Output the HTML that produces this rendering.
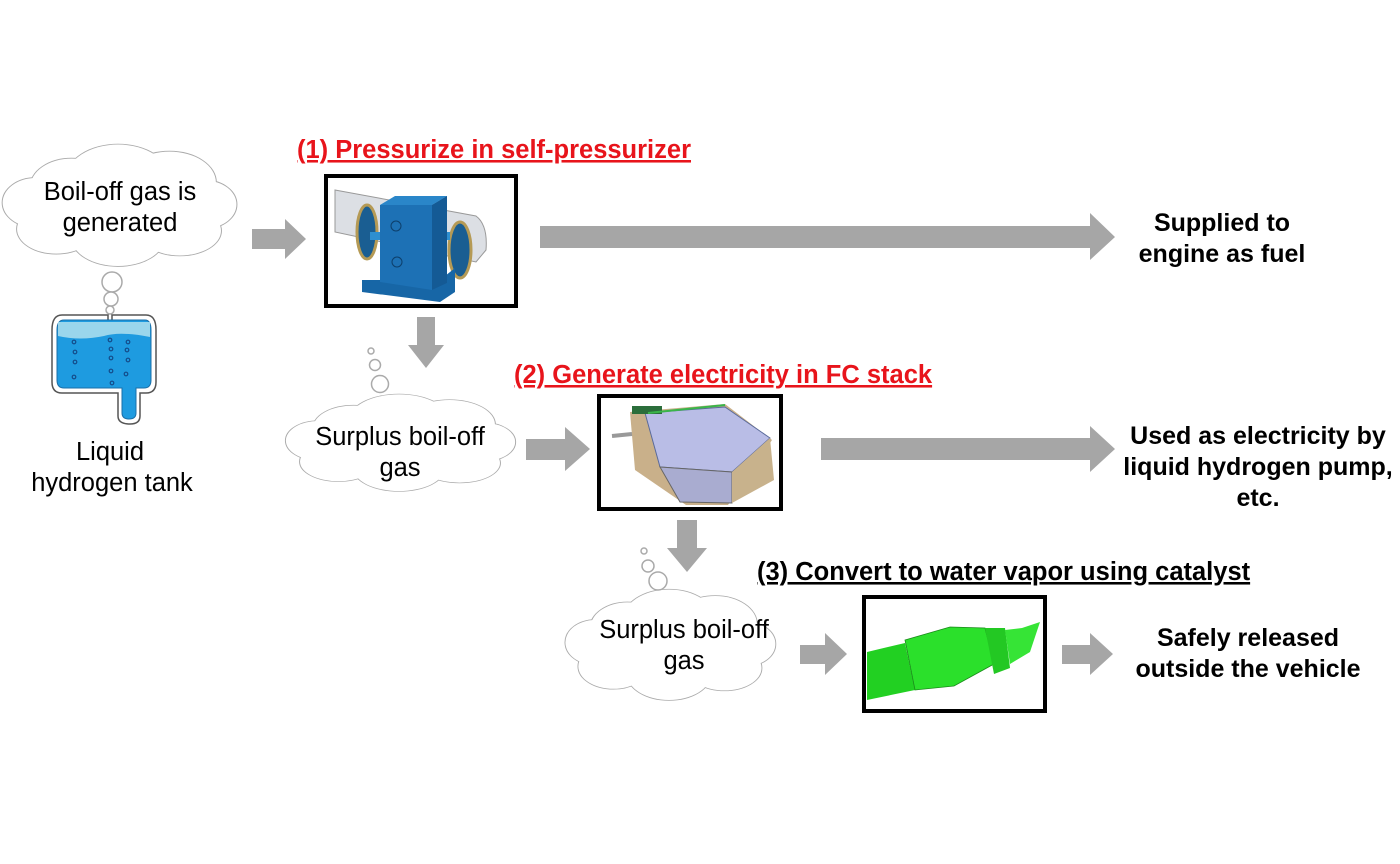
<!DOCTYPE html>
<html><head><meta charset="utf-8"><style>
html,body{margin:0;padding:0;background:#fff;}
svg{display:block;}
text{font-family:"Liberation Sans",Arial,sans-serif;}
.r{font-size:25.5px;fill:#000;text-anchor:middle;}
.b{font-size:25px;font-weight:bold;fill:#000;text-anchor:middle;}
.t{font-size:25.5px;font-weight:bold;text-decoration:underline;}
</style></head><body>
<svg width="1400" height="864" viewBox="0 0 1400 864" xmlns="http://www.w3.org/2000/svg">
<defs>
<g id="cloudS">
<ellipse cx="0" cy="0" rx="50" ry="38"/>
<ellipse cx="-45" cy="10" rx="40" ry="32"/>
<ellipse cx="50" cy="5" rx="45" ry="35"/>
<ellipse cx="-80" cy="28" rx="32" ry="28"/>
<ellipse cx="85" cy="30" rx="30" ry="27"/>
<ellipse cx="-60" cy="58" rx="38" ry="28"/>
<ellipse cx="0" cy="68" rx="45" ry="32"/>
<ellipse cx="60" cy="60" rx="40" ry="28"/>
<ellipse cx="0" cy="35" rx="90" ry="40"/>
</g>
</defs>
<g fill="#a6a6a6">
<polygon points="252,229 285,229 285,219 306,239 285,259 285,249 252,249"/>
<polygon points="540,226 1090,226 1090,213 1115,237 1090,260 1090,248 540,248"/>
<polygon points="417,317 435,317 435,345 444,345 426,368 408,345 417,345"/>
<polygon points="526,439 565,439 565,427 590,449 565,471 565,460 526,460"/>
<polygon points="821,438 1090,438 1090,426 1115,449 1090,472 1090,460 821,460"/>
<polygon points="677,520 697,520 697,548 707,548 687,572 667,548 677,548"/>
<polygon points="800,645 825,645 825,633 847,654 825,675 825,664 800,664"/>
<polygon points="1062,645 1090,645 1090,633 1113,654 1090,675 1090,664 1062,664"/>
</g>
<g transform="translate(118,178) scale(1.03,0.88)"><use href="#cloudS" fill="#fff" stroke="#aaa" stroke-width="1.9"/><use href="#cloudS" fill="#fff"/></g>
<g transform="translate(399,421) scale(1.01,0.7)"><use href="#cloudS" fill="#fff" stroke="#aaa" stroke-width="1.9"/><use href="#cloudS" fill="#fff"/></g>
<g transform="translate(669,620) scale(0.925,0.8)"><use href="#cloudS" fill="#fff" stroke="#aaa" stroke-width="1.9"/><use href="#cloudS" fill="#fff"/></g>
<g fill="#fff" stroke="#aaa" stroke-width="1.5">
<circle cx="112" cy="282" r="10"/><circle cx="111" cy="299" r="7"/><circle cx="110" cy="310" r="4"/>
<circle cx="371" cy="351" r="3"/><circle cx="375" cy="365" r="5.5"/><circle cx="380" cy="384" r="8.5"/>
<circle cx="644" cy="551" r="3"/><circle cx="648" cy="566" r="6"/><circle cx="658" cy="581" r="9"/>
</g>
<text class="r" x="120" y="200">Boil-off gas is</text>
<text class="r" x="120" y="231">generated</text>
<text class="r" x="400" y="445">Surplus boil-off</text>
<text class="r" x="400" y="476">gas</text>
<text class="r" x="684" y="638">Surplus boil-off</text>
<text class="r" x="684" y="669">gas</text>
<text class="r" x="110" y="460">Liquid</text>
<text class="r" x="112" y="491">hydrogen tank</text>
<path d="M62,315 H108 V322 H112 V315 H146 Q156,315 156,330 V382 Q156,393 146,393 H140 V416 Q140,424 130,424 Q118,424 118,416 V393 H62 Q52,393 52,382 V330 Q52,315 62,315 Z" fill="#fff" stroke="#555" stroke-width="1.5"/>
<path d="M64,320 H145 Q151,320 151,330 V380 Q151,388 144,388 H136 V413 Q136,419 129,419 Q122,419 122,413 V388 H64 Q57,388 57,380 V330 Q57,320 64,320 Z" fill="#1e9be0" stroke="#1b6fa8" stroke-width="1"/>
<path d="M58,322 H150 V337 Q120,331 104,336 Q80,341 58,336 Z" fill="#9ad6ec"/>
<g fill="none" stroke="#144c8a" stroke-width="1.2">
<circle cx="74" cy="342" r="1.8"/><circle cx="75" cy="352" r="1.8"/><circle cx="75" cy="362" r="1.8"/><circle cx="74" cy="377" r="1.8"/>
<circle cx="110" cy="340" r="1.8"/><circle cx="111" cy="349" r="1.8"/><circle cx="111" cy="358" r="1.8"/><circle cx="111" cy="371" r="1.8"/><circle cx="112" cy="383" r="1.8"/>
<circle cx="128" cy="342" r="1.8"/><circle cx="127" cy="350" r="1.8"/><circle cx="128" cy="360" r="1.8"/><circle cx="126" cy="374" r="1.8"/>
</g>
<text class="t" x="297" y="158" fill="#e8141b">(1) Pressurize in self-pressurizer</text>
<text class="t" x="514" y="383" fill="#e8141b">(2) Generate electricity in FC stack</text>
<text class="t" x="757" y="580" fill="#000">(3) Convert to water vapor using catalyst</text>
<rect x="326" y="176" width="190" height="130" fill="#fff" stroke="#000" stroke-width="4"/>
<path d="M335,190 L476,216 Q488,225 486,250 L476,262 L335,232 Z" fill="#dcdfe4" stroke="#999" stroke-width="1"/>
<ellipse cx="367" cy="232" rx="10" ry="27" fill="#1a5e92" stroke="#b59a55" stroke-width="3"/>
<ellipse cx="460" cy="250" rx="11" ry="28" fill="#1a5e92" stroke="#b59a55" stroke-width="3"/>
<rect x="370" y="232" width="80" height="8" fill="#2e8fd0"/>
<polygon points="362,280 440,280 455,268 455,292 440,302 362,292" fill="#1766a6"/>
<polygon points="380,205 432,205 447,196 447,283 432,290 380,282" fill="#1d71b5"/>
<polygon points="380,205 432,205 447,196 395,196" fill="#2a86c9"/>
<polygon points="432,205 447,196 447,283 432,290" fill="#145a95"/>
<circle cx="396" cy="226" r="5" fill="none" stroke="#0d3f6b"/><circle cx="397" cy="262" r="5" fill="none" stroke="#0d3f6b"/>
<rect x="599" y="396" width="182" height="113" fill="#fff" stroke="#000" stroke-width="4"/>
<polygon points="630,412 725,404 772,440 728,505 686,505 635,470" fill="#c9b08a"/>
<polygon points="645,413 725,407 770,438 732,472 660,467" fill="#b9bde6" stroke="#5a6a9a" stroke-width="1"/>
<polygon points="660,467 732,472 732,503 680,502" fill="#a9acd0" stroke="#666" stroke-width="1"/>
<polygon points="732,472 770,438 774,480 732,503" fill="#c8b28c"/>
<rect x="632" y="406" width="30" height="8" fill="#2b6e3b"/>
<line x1="648" y1="413" x2="725" y2="405" stroke="#3ab54a" stroke-width="2"/>
<line x1="612" y1="436" x2="632" y2="434" stroke="#999" stroke-width="4"/>
<rect x="864" y="597" width="181" height="114" fill="#fff" stroke="#000" stroke-width="4"/>
<polygon points="867,652 905,643 915,690 867,700" fill="#22d022"/>
<polygon points="905,640 950,627 985,628 994,664 954,686 915,690" fill="#2be02b" stroke="#1a8a1a" stroke-width="0.8"/>
<polygon points="985,628 1005,628 1010,668 994,674" fill="#23c823"/>
<polygon points="1005,630 1022,628 1040,622 1030,652 1010,664" fill="#36e436"/>
<text class="b" x="1222" y="231">Supplied to</text>
<text class="b" x="1222" y="262">engine as fuel</text>
<text class="b" x="1258" y="444">Used as electricity by</text>
<text class="b" x="1258" y="475">liquid hydrogen pump,</text>
<text class="b" x="1258" y="506">etc.</text>
<text class="b" x="1248" y="646">Safely released</text>
<text class="b" x="1248" y="677">outside the vehicle</text>
</svg>
</body></html>
